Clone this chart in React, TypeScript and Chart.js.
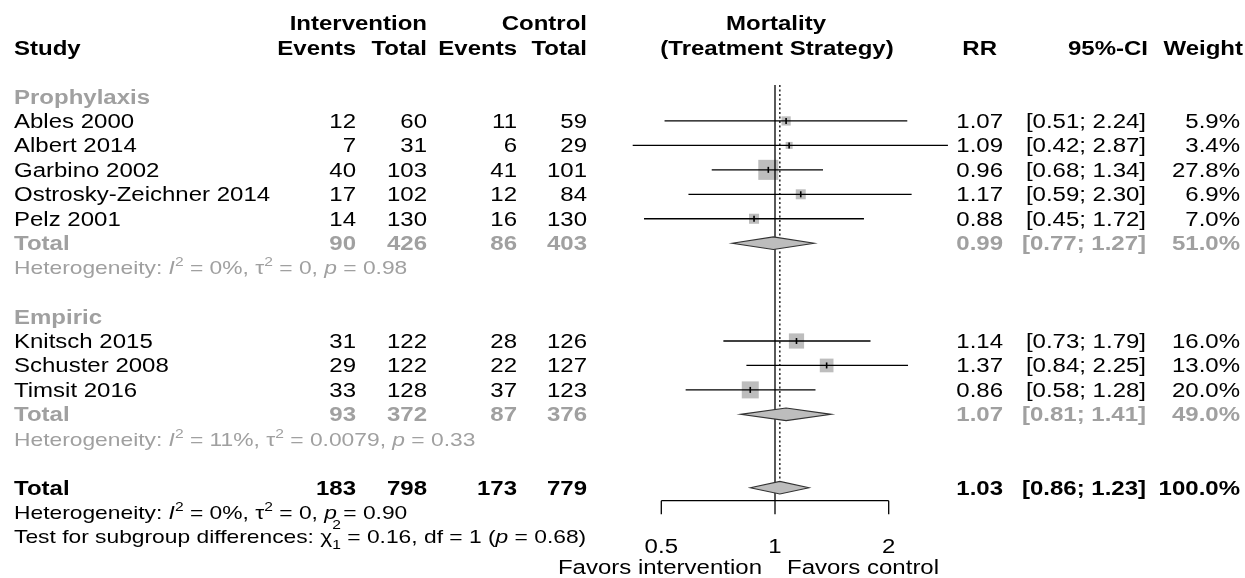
import React, { useEffect, useRef } from "react";
import { Chart, registerables } from "chart.js";

Chart.register(...registerables);

// ---------------- data ----------------
const studyNames = ["Ables 2000", "Albert 2014", "Garbino 2002", "Ostrosky-Zeichner 2014", "Pelz 2001", "Knitsch 2015", "Schuster 2008", "Timsit 2016"];
const studyGroup = [0, 0, 0, 0, 0, 1, 1, 1];
const intEvents = [12, 7, 40, 17, 14, 31, 29, 33];
const intTotal = [60, 31, 103, 102, 130, 122, 122, 128];
const ctlEvents = [11, 6, 41, 12, 16, 28, 22, 37];
const ctlTotal = [59, 29, 101, 84, 130, 126, 127, 123];
const studyRR = [1.07, 1.09, 0.96, 1.17, 0.88, 1.14, 1.37, 0.86];
const studyLower = [0.51, 0.42, 0.68, 0.59, 0.45, 0.73, 0.84, 0.58];
const studyUpper = [2.24, 2.87, 1.34, 2.3, 1.72, 1.79, 2.25, 1.28];
const studyWeight = [5.9, 3.4, 27.8, 6.9, 7.0, 16.0, 13.0, 20.0];

const groupNames = ["Prophylaxis", "Empiric"];
const groupIntEvents = [90, 93];
const groupIntTotal = [426, 372];
const groupCtlEvents = [86, 87];
const groupCtlTotal = [403, 376];
const groupRR = [0.99, 1.07];
const groupLower = [0.77, 0.81];
const groupUpper = [1.27, 1.41];
const groupWeight = [51.0, 49.0];
const groupI2 = ["0%", "11%"];
const groupTau2 = ["0", "0.0079"];
const groupP = ["0.98", "0.33"];

const overallCounts = [183, 798, 173, 779];
const overallEstimate = [1.03, 0.86, 1.23]; // RR, lower, upper
const overallWeight = 100.0;
const overallHet = ["0%", "0", "0.90"]; // I2, tau2, p
const subgroupTest = ["0.16", "1", "0.68"]; // chi2, df, p

const axisTicks = [0.5, 1, 2];
const axisTickLabels = ["0.5", "1", "2"];
const axisSideLabels = ["Favors intervention", "Favors control"];

// ---------------- layout ----------------
const W = 1245;
const H = 578;
const ROW0 = 96.5;
const ROWH = 24.45;
const X_ONE = 775;
const PX_LOG2 = 113.7;
const SX = 1.2;
const FONT = '"Liberation Sans", Arial, Helvetica, sans-serif';
const GREY = "#a0a0a0";
const BOX = "#bdbdbd";

const COL_STUDY = 14;
const COL_IE = 356;
const COL_IT = 427;
const COL_CE = 517;
const COL_CT = 587;
const COL_RR = 1003;
const COL_CI = 1146;
const COL_W = 1240;

function buildRows() {
  const study: number[] = [];
  const head: number[] = [];
  const total: number[] = [];
  const het: number[] = [];
  let r = 0;
  groupNames.forEach((_, gi) => {
    head[gi] = r++;
    studyNames.forEach((_, si) => {
      if (studyGroup[si] === gi) study[si] = r++;
    });
    total[gi] = r++;
    het[gi] = r;
    r += 2;
  });
  return { study, head, total, het, overall: r, overallHet: r + 1, test: r + 2 };
}
const ROWS = buildRows();

const f2 = (v: number) => v.toFixed(2);
const ciText = (l: number, u: number) => `[${f2(l)}; ${f2(u)}]`;
const wText = (w: number) => `${w.toFixed(1)}%`;

function setFont(ctx: CanvasRenderingContext2D, size: number, bold = false, italic = false) {
  ctx.font = `${italic ? "italic " : ""}${bold ? "bold " : ""}${size}px ${FONT}`;
}

function text(
  ctx: CanvasRenderingContext2D,
  s: string,
  x: number,
  y: number,
  align: CanvasTextAlign,
  opts: { size?: number; bold?: boolean; italic?: boolean; color?: string } = {}
) {
  ctx.save();
  setFont(ctx, opts.size ?? 20, opts.bold, opts.italic);
  ctx.fillStyle = opts.color ?? "#000";
  ctx.textAlign = align;
  ctx.textBaseline = "alphabetic";
  ctx.translate(x, y);
  ctx.scale(SX, 1);
  ctx.fillText(s, 0, 0);
  ctx.restore();
}

type Seg = { t: string; it?: boolean; size?: number; dy?: number; noAdv?: boolean };

function rich(ctx: CanvasRenderingContext2D, segs: Seg[], x: number, y: number, size: number, color: string) {
  let cx = x;
  let pending = 0;
  for (const s of segs) {
    const sz = s.size ?? size;
    ctx.save();
    setFont(ctx, sz, false, s.it);
    ctx.fillStyle = color;
    ctx.textAlign = "left";
    ctx.textBaseline = "alphabetic";
    const w = ctx.measureText(s.t).width * SX;
    ctx.translate(cx, y + (s.dy ?? 0));
    ctx.scale(SX, 1);
    ctx.fillText(s.t, 0, 0);
    ctx.restore();
    if (s.noAdv) {
      pending = Math.max(pending, w);
    } else {
      cx += Math.max(w, pending);
      pending = 0;
    }
  }
}

function hetSegs(i2: string, tau2: string, p: string): Seg[] {
  return [
    { t: "Heterogeneity: " },
    { t: "I", it: true },
    { t: "2", size: 13, dy: -8 },
    { t: " = " + i2 + ", " },
    { t: "\u03c4" },
    { t: "2", size: 13, dy: -8 },
    { t: " = " + tau2 + ", " },
    { t: "p", it: true },
    { t: " = " + p },
  ];
}

const forestPlugin = {
  id: "forestPlugin",
  afterDatasetsDraw(chart: any) {
    const ctx: CanvasRenderingContext2D = chart.ctx;
    const xs = chart.scales.x;
    const ys = chart.scales.y;
    const X = (v: number) => xs.getPixelForValue(v);
    const Y = (r: number) => ys.getPixelForValue(r);
    const base = (r: number) => Y(r) + 7;
    const axisRow = ROWS.overall + 0.53;
    const topRow = -0.47;

    ctx.save();
    // reference lines
    ctx.strokeStyle = "#000";
    ctx.lineWidth = 1.3;
    ctx.beginPath();
    ctx.moveTo(X(1), Y(topRow));
    ctx.lineTo(X(1), Y(axisRow));
    ctx.stroke();
    ctx.setLineDash([2, 2.5]);
    ctx.beginPath();
    ctx.moveTo(X(overallEstimate[0]), Y(topRow));
    ctx.lineTo(X(overallEstimate[0]), Y(ROWS.overall));
    ctx.stroke();
    ctx.setLineDash([]);

    // CI lines + estimate ticks
    studyNames.forEach((_, i) => {
      const y = Y(ROWS.study[i]);
      ctx.strokeStyle = "#000";
      ctx.lineWidth = 1.3;
      ctx.beginPath();
      ctx.moveTo(X(studyLower[i]), y);
      ctx.lineTo(X(studyUpper[i]), y);
      ctx.stroke();
      ctx.lineWidth = 1.6;
      ctx.beginPath();
      ctx.moveTo(X(studyRR[i]), y - 3);
      ctx.lineTo(X(studyRR[i]), y + 3);
      ctx.stroke();
    });

    // diamonds
    const diamond = (est: number, lo: number, hi: number, row: number) => {
      const y = Y(row);
      const h = 6.3;
      ctx.beginPath();
      ctx.moveTo(X(lo), y);
      ctx.lineTo(X(est), y - h);
      ctx.lineTo(X(hi), y);
      ctx.lineTo(X(est), y + h);
      ctx.closePath();
      ctx.fillStyle = BOX;
      ctx.fill();
      ctx.strokeStyle = "#333";
      ctx.lineWidth = 1.1;
      ctx.stroke();
    };
    groupNames.forEach((_, g) => diamond(groupRR[g], groupLower[g], groupUpper[g], ROWS.total[g]));
    diamond(overallEstimate[0], overallEstimate[1], overallEstimate[2], ROWS.overall);

    // axis
    ctx.strokeStyle = "#000";
    ctx.lineWidth = 1.3;
    ctx.beginPath();
    ctx.moveTo(X(axisTicks[0]), Y(axisRow));
    ctx.lineTo(X(axisTicks[axisTicks.length - 1]), Y(axisRow));
    axisTicks.forEach((t) => {
      ctx.moveTo(X(t), Y(axisRow));
      ctx.lineTo(X(t), Y(axisRow) + 13.5);
    });
    ctx.stroke();
    axisTicks.forEach((t, i) => text(ctx, axisTickLabels[i], X(t), Y(axisRow) + 52, "center", { size: 20 }));
    text(ctx, axisSideLabels[0], X(1) - 13, Y(axisRow) + 73.5, "right");
    text(ctx, axisSideLabels[1], X(1) + 12, Y(axisRow) + 73.5, "left");

    // headers
    text(ctx, "Intervention", COL_IT, base(-3), "right", { bold: true });
    text(ctx, "Control", COL_CT, base(-3), "right", { bold: true });
    text(ctx, "Mortality", X(1) + 1, base(-3), "center", { bold: true });
    text(ctx, "Study", COL_STUDY, base(-2), "left", { bold: true });
    text(ctx, "Events", COL_IE, base(-2), "right", { bold: true });
    text(ctx, "Total", COL_IT, base(-2), "right", { bold: true });
    text(ctx, "Events", COL_CE, base(-2), "right", { bold: true });
    text(ctx, "Total", COL_CT, base(-2), "right", { bold: true });
    text(ctx, "(Treatment Strategy)", X(1) + 2, base(-2), "center", { bold: true });
    text(ctx, "RR", COL_RR - 6, base(-2), "right", { bold: true });
    text(ctx, "95%-CI", COL_CI + 2, base(-2), "right", { bold: true });
    text(ctx, "Weight", COL_W + 3, base(-2), "right", { bold: true });

    // study rows
    studyNames.forEach((name, i) => {
      const b = base(ROWS.study[i]);
      text(ctx, name, COL_STUDY, b, "left");
      text(ctx, String(intEvents[i]), COL_IE, b, "right");
      text(ctx, String(intTotal[i]), COL_IT, b, "right");
      text(ctx, String(ctlEvents[i]), COL_CE, b, "right");
      text(ctx, String(ctlTotal[i]), COL_CT, b, "right");
      text(ctx, f2(studyRR[i]), COL_RR, b, "right");
      text(ctx, ciText(studyLower[i], studyUpper[i]), COL_CI, b, "right");
      text(ctx, wText(studyWeight[i]), COL_W, b, "right");
    });

    // groups
    groupNames.forEach((g, gi) => {
      text(ctx, g, COL_STUDY, base(ROWS.head[gi]), "left", { bold: true, color: GREY });
      const b = base(ROWS.total[gi]);
      const o = { bold: true, color: GREY };
      text(ctx, "Total", COL_STUDY, b, "left", o);
      text(ctx, String(groupIntEvents[gi]), COL_IE, b, "right", o);
      text(ctx, String(groupIntTotal[gi]), COL_IT, b, "right", o);
      text(ctx, String(groupCtlEvents[gi]), COL_CE, b, "right", o);
      text(ctx, String(groupCtlTotal[gi]), COL_CT, b, "right", o);
      text(ctx, f2(groupRR[gi]), COL_RR, b, "right", o);
      text(ctx, ciText(groupLower[gi], groupUpper[gi]), COL_CI, b, "right", o);
      text(ctx, wText(groupWeight[gi]), COL_W, b, "right", o);
      rich(ctx, hetSegs(groupI2[gi], groupTau2[gi], groupP[gi]), COL_STUDY, Y(ROWS.het[gi]) + 6.8, 19, GREY);
    });

    // overall
    {
      const b = base(ROWS.overall);
      const o = { bold: true };
      text(ctx, "Total", COL_STUDY, b, "left", o);
      text(ctx, String(overallCounts[0]), COL_IE, b, "right", o);
      text(ctx, String(overallCounts[1]), COL_IT, b, "right", o);
      text(ctx, String(overallCounts[2]), COL_CE, b, "right", o);
      text(ctx, String(overallCounts[3]), COL_CT, b, "right", o);
      text(ctx, f2(overallEstimate[0]), COL_RR, b, "right", o);
      text(ctx, ciText(overallEstimate[1], overallEstimate[2]), COL_CI, b, "right", o);
      text(ctx, wText(overallWeight), COL_W, b, "right", o);
      rich(ctx, hetSegs(overallHet[0], overallHet[1], overallHet[2]), COL_STUDY, Y(ROWS.overallHet) + 6.8, 19, "#000");
      rich(
        ctx,
        [
          { t: "Test for subgroup differences: " },
          { t: "\u03c7" },
          { t: "2", size: 13, dy: -14, noAdv: true },
          { t: "1", size: 13, dy: 6 },
          { t: " = " + subgroupTest[0] + ", df = " + subgroupTest[1] + " (" },
          { t: "p", it: true },
          { t: " = " + subgroupTest[2] + ")" },
        ],
        COL_STUDY,
        Y(ROWS.test) + 6.8,
        19,
        "#000"
      );
    }
    ctx.restore();
  },
};

export default function App() {
  const ref = useRef<HTMLCanvasElement>(null);
  useEffect(() => {
    const canvas = ref.current!;
    const yMin = -ROW0 / ROWH;
    const yMax = (H - ROW0) / ROWH;
    const xMin = Math.pow(2, -X_ONE / PX_LOG2);
    const xMax = Math.pow(2, (W - X_ONE) / PX_LOG2);
    const chart = new Chart(canvas, {
      type: "scatter",
      data: {
        datasets: [
          {
            label: "studies",
            data: studyNames.map((_, i) => ({ x: studyRR[i], y: ROWS.study[i] })),
            pointStyle: "rect",
            pointRadius: studyWeight.map((w) => (3.8 * Math.sqrt(w)) / Math.SQRT2),
            pointBackgroundColor: BOX,
            pointBorderWidth: 0,
            pointBorderColor: BOX,
          },
        ],
      },
      options: {
        responsive: false,
        animation: false,
        devicePixelRatio: 1,
        events: [],
        layout: { padding: 0, autoPadding: false },
        plugins: { legend: { display: false }, tooltip: { enabled: false }, title: { display: false } },
        scales: {
          x: { type: "logarithmic", display: false, min: xMin, max: xMax, bounds: "data" },
          y: { type: "linear", display: false, reverse: true, min: yMin, max: yMax, bounds: "data" },
        },
      },
      plugins: [forestPlugin],
    } as any);
    return () => chart.destroy();
  }, []);
  return (
    <div style={{ position: "fixed", left: 0, top: 0, width: W, height: H, background: "#fff" }}>
      <canvas ref={ref} width={W} height={H} style={{ display: "block", width: W, height: H }} />
    </div>
  );
}
